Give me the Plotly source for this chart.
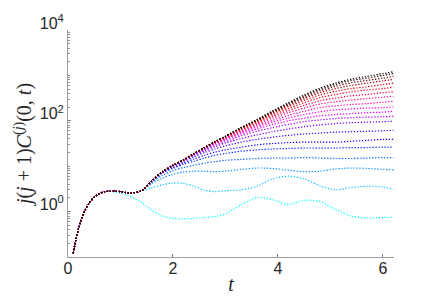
import numpy as np
import plotly.graph_objects as go

# shared early segment (all curves coincide), log10 of j(j+1)C^(j)(0,t)
t_early = [0.1, 0.15, 0.2, 0.3, 0.4, 0.5, 0.6, 0.7, 0.8]
log_early = [-0.92, -0.62, -0.38, -0.03, 0.18, 0.32, 0.40, 0.44, 0.45]

# later times
t_late = [0.9, 1.0, 1.1, 1.2, 1.4, 1.6, 1.8, 2.0, 2.2, 2.4, 2.6, 2.8, 3.0,
          3.3, 3.6, 3.9, 4.2, 4.5, 4.8, 5.1, 5.4, 5.7, 6.0, 6.2]

L1 = [0.43, 0.40, 0.37, 0.33, 0.20, 0.03, -0.10, -0.15, -0.16, -0.15, -0.13, -0.11, -0.05, 0.15, 0.31, 0.26, 0.16, 0.25, 0.22, 0.05, -0.10, -0.14, -0.13, -0.12]
L2 = [0.45, 0.44, 0.42, 0.41, 0.46, 0.52, 0.59, 0.63, 0.62, 0.56, 0.47, 0.44, 0.46, 0.48, 0.56, 0.72, 0.78, 0.72, 0.57, 0.48, 0.53, 0.56, 0.54, 0.49]
L3 = [0.45, 0.44, 0.42, 0.41, 0.46, 0.62, 0.74, 0.82, 0.87, 0.89, 0.89, 0.88, 0.89, 0.93, 0.96, 0.95, 0.91, 0.88, 0.89, 0.94, 0.96, 0.95, 0.93, 0.92]
L4 = [0.45, 0.44, 0.42, 0.41, 0.46, 0.65, 0.80, 0.90, 0.97, 1.02, 1.07, 1.10, 1.13, 1.15, 1.17, 1.18, 1.18, 1.19, 1.18, 1.17, 1.17, 1.18, 1.19, 1.19]
L5 = [0.45, 0.44, 0.42, 0.41, 0.46, 0.67, 0.85, 0.95, 1.04, 1.11, 1.18, 1.24, 1.28, 1.33, 1.36, 1.38, 1.39, 1.40, 1.40, 1.40, 1.41, 1.41, 1.42, 1.42]
L6 = [0.45, 0.44, 0.42, 0.41, 0.46, 0.67, 0.86, 0.97, 1.07, 1.16, 1.24, 1.31, 1.36, 1.42, 1.47, 1.50, 1.52, 1.53, 1.53, 1.53, 1.55, 1.57, 1.59, 1.59]
L7 = [0.45, 0.44, 0.42, 0.41, 0.46, 0.68, 0.87, 1.00, 1.10, 1.21, 1.30, 1.38, 1.45, 1.53, 1.59, 1.64, 1.68, 1.71, 1.73, 1.75, 1.76, 1.77, 1.78, 1.79]
L8 = [0.45, 0.44, 0.42, 0.41, 0.46, 0.68, 0.88, 1.01, 1.12, 1.24, 1.34, 1.43, 1.51, 1.61, 1.69, 1.76, 1.82, 1.87, 1.91, 1.94, 1.96, 1.97, 1.98, 1.99]
L9 = [0.45, 0.44, 0.42, 0.41, 0.46, 0.68, 0.88, 1.01, 1.12, 1.25, 1.36, 1.46, 1.54, 1.67, 1.77, 1.85, 1.92, 1.98, 2.02, 2.05, 2.07, 2.08, 2.09, 2.10]
L10 = [0.45, 0.44, 0.42, 0.41, 0.46, 0.68, 0.88, 1.01, 1.13, 1.26, 1.38, 1.49, 1.58, 1.71, 1.82, 1.92, 2.00, 2.06, 2.11, 2.14, 2.16, 2.18, 2.19, 2.21]
L11 = [0.45, 0.44, 0.42, 0.41, 0.46, 0.68, 0.88, 1.02, 1.13, 1.27, 1.39, 1.50, 1.60, 1.74, 1.86, 1.97, 2.06, 2.14, 2.20, 2.24, 2.26, 2.28, 2.29, 2.31]
L12 = [0.45, 0.44, 0.42, 0.41, 0.46, 0.68, 0.88, 1.02, 1.13, 1.27, 1.39, 1.51, 1.61, 1.76, 1.89, 2.01, 2.12, 2.21, 2.29, 2.33, 2.36, 2.38, 2.41, 2.43]
L13 = [0.45, 0.44, 0.42, 0.41, 0.46, 0.68, 0.88, 1.02, 1.14, 1.27, 1.40, 1.52, 1.62, 1.78, 1.92, 2.06, 2.18, 2.28, 2.37, 2.42, 2.46, 2.49, 2.52, 2.54]
L14 = [0.45, 0.44, 0.42, 0.41, 0.46, 0.68, 0.88, 1.02, 1.14, 1.28, 1.40, 1.53, 1.63, 1.80, 1.95, 2.10, 2.23, 2.34, 2.44, 2.50, 2.55, 2.58, 2.62, 2.64]
L15 = [0.45, 0.44, 0.42, 0.41, 0.46, 0.68, 0.88, 1.02, 1.14, 1.28, 1.41, 1.53, 1.64, 1.81, 1.97, 2.13, 2.27, 2.40, 2.51, 2.58, 2.64, 2.68, 2.71, 2.74]
L16 = [0.45, 0.44, 0.42, 0.41, 0.46, 0.68, 0.88, 1.02, 1.14, 1.28, 1.41, 1.54, 1.65, 1.83, 1.99, 2.16, 2.31, 2.45, 2.57, 2.65, 2.71, 2.75, 2.80, 2.83]
L17 = [0.45, 0.44, 0.42, 0.41, 0.46, 0.68, 0.88, 1.02, 1.14, 1.28, 1.41, 1.54, 1.66, 1.84, 2.00, 2.18, 2.34, 2.49, 2.62, 2.71, 2.78, 2.83, 2.88, 2.91]
L18 = [0.45, 0.44, 0.42, 0.41, 0.46, 0.68, 0.88, 1.02, 1.14, 1.28, 1.41, 1.54, 1.66, 1.85, 2.01, 2.19, 2.36, 2.52, 2.66, 2.76, 2.84, 2.89, 2.94, 2.98]
L19 = [0.45, 0.44, 0.42, 0.41, 0.46, 0.68, 0.88, 1.02, 1.14, 1.28, 1.41, 1.54, 1.66, 1.85, 2.02, 2.21, 2.38, 2.55, 2.69, 2.80, 2.89, 2.94, 3.00, 3.04]
L20 = [0.45, 0.44, 0.42, 0.41, 0.46, 0.68, 0.88, 1.02, 1.14, 1.28, 1.41, 1.54, 1.66, 1.85, 2.03, 2.22, 2.40, 2.57, 2.72, 2.83, 2.92, 2.98, 3.04, 3.08]

lines = [L1, L2, L3, L4, L5, L6, L7, L8, L9, L10,
         L11, L12, L13, L14, L15, L16, L17, L18, L19, L20]

y_tickvals = [1, 100, 10000]
y_ticktext = ["10<sup>0</sup>", "10<sup>2</sup>", "10<sup>4</sup>"]
x_tickvals = [0, 2, 4, 6]


def cmap(f):
    stops = [(0.0, (0, 255, 255)), (0.25, (0, 0, 255)), (0.5, (255, 0, 255)),
             (0.75, (255, 0, 0)), (1.0, (0, 0, 0))]
    for (f0, c0), (f1, c1) in zip(stops[:-1], stops[1:]):
        if f <= f1:
            a = (f - f0) / (f1 - f0)
            return "rgb(%d,%d,%d)" % tuple(round(c0[i] + a * (c1[i] - c0[i])) for i in range(3))
    return "rgb(0,0,0)"


fig = go.Figure()
n = len(lines)
t_all = t_early + t_late
for k, L in enumerate(lines):
    y = 10 ** np.array(log_early + L)
    fig.add_trace(go.Scatter(
        x=t_all, y=y, mode="lines",
        line=dict(color=cmap(k / (n - 1)), width=1.2, dash="1.3px,1.7px", shape="spline", smoothing=0.8),
        showlegend=False, hoverinfo="skip"))

minor_vals = [m * 10 ** d for d in range(-1, 4) for m in range(1, 10) if not (m == 1 and d in (0, 2))]

fig.update_layout(
    width=426, height=301,
    margin=dict(l=60, r=40, t=22, b=52),
    plot_bgcolor="white", paper_bgcolor="white",
    font=dict(family="Liberation Sans, Arial, sans-serif", size=16, color="#262626"),
    xaxis=dict(range=[0, 6.21], tickvals=x_tickvals, ticks="inside", ticklen=3,
               tickcolor="#808080", showline=True, linecolor="#a0a0a0", linewidth=1,
               showgrid=False, zeroline=False, automargin=False, ticklabelstandoff=-3,
               title=dict(text="<i>t</i>", font=dict(family="Liberation Serif, serif", size=20), standoff=0)),
    yaxis=dict(type="log", range=[-1, 4], tickvals=y_tickvals, ticktext=y_ticktext,
               ticks="inside", ticklen=3, tickcolor="#808080", ticklabelshift=-7,
               minor=dict(tickvals=minor_vals, ticks="inside", ticklen=2, tickcolor="#909090"),
               showline=True, linecolor="#a0a0a0", linewidth=1, showgrid=False, zeroline=False,
               automargin=False,
               title=dict(text="<i>j</i>(<i>j</i> + 1)<i>C</i><sup>(<i>j</i>)</sup>(0, <i>t</i>)",
                          font=dict(family="Liberation Serif, serif", size=20), standoff=2)),
)

fig.write_html("out.html")
